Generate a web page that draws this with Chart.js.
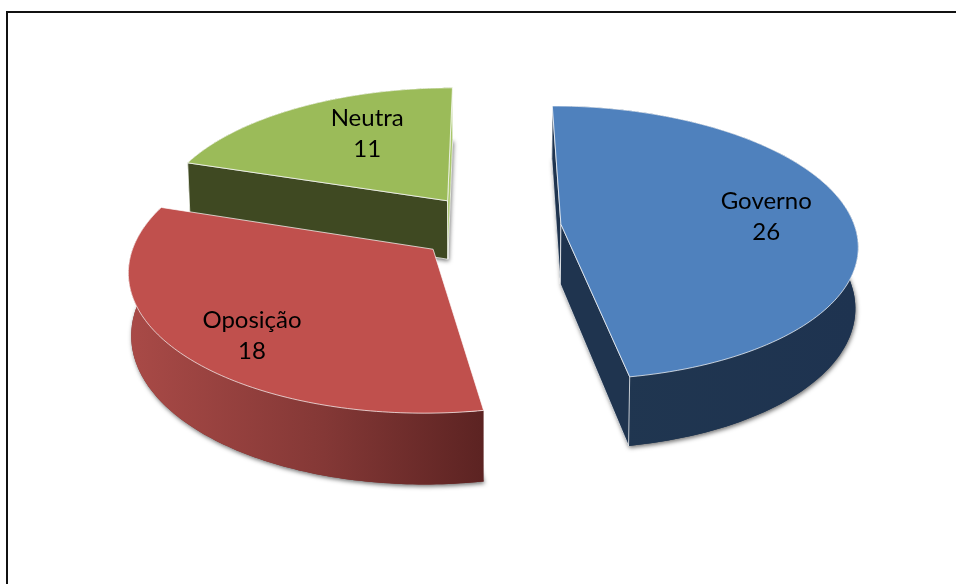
<!DOCTYPE html>
<html>
<head>
<meta charset="utf-8">
<script src="https://cdn.jsdelivr.net/npm/chart.js@4/dist/chart.umd.min.js"></script>
<style>
  html, body { margin: 0; padding: 0; background: #fff; overflow: hidden; }
  #wrap { position: relative; width: 956px; height: 584px; }
  #frame { position: absolute; left: 6px; top: 11px; right: 0; bottom: 0;
           border-left: 2px solid #111; border-top: 2px solid #111; pointer-events: none; }
</style>
</head>
<body>
<div id="wrap">
  <canvas id="chart" width="956" height="584"></canvas>
  <div id="frame"></div>
</div>
<script>
// ── Data ──────────────────────────────────────────────────────────────────
const CATEGORIES = ['Governo', 'Oposição', 'Neutra'];
const VALUES     = [26, 18, 11];

// ── Style ─────────────────────────────────────────────────────────────────
const TOP_COLORS  = ['#4F81BD', '#C0504D', '#9BBB59'];
const WALL_COLORS = ['#1F344F', '#7A3230', '#3F4922'];
const END_COLORS  = ['#1F344F', '#7A3230', '#A9C76B'];  // face at the slice's end angle
const RIM_STOPS   = [
  [[0, '#2A4164'], [0.18, '#203650'], [1, '#1E3350']],
  [[0, '#A94A47'], [0.55, '#843836'], [1, '#5C2322']],
  [[0, '#6F8A3F'], [1, '#6F8A3F']],
];
const LABEL_DIST = [0.711, 0.78, 0.645];
const LABEL_TURN = [0, -5.2, 7];                        // degrees off the slice's middle
const DRAW_ORDER = [2, 1, 0];                           // back to front
const FONT = '24px Lato';

// camera: projects the pie plane (unit = outer radius) on to the page
const CAM = { x0: 489, y0: 227, a: 294, c: 135, p: 0.136, d: 60, k: 0.008 };

function project(U, V, Z) {
  const w = 1 + CAM.p * V;
  return {
    x: CAM.x0 + CAM.a * U / w * (1 - CAM.k * Z),
    y: CAM.y0 + (-CAM.c * V + CAM.d * Z) / w,
  };
}

function tracePoly(ctx, pts) {
  ctx.beginPath();
  pts.forEach((p, i) => i ? ctx.lineTo(p.x, p.y) : ctx.moveTo(p.x, p.y));
  ctx.closePath();
}

function signedArea(pts) {
  return pts.reduce((sum, p, i) => {
    const q = pts[(i + 1) % pts.length];
    return sum + p.x * q.y - q.x * p.y;
  }, 0);
}

// plane coordinates of a slice, taken from the arc element Chart.js laid out
function sliceGeom(arc) {
  const mid = (arc.startAngle + arc.endAngle) / 2;
  const R = arc.outerRadius;
  const off = arc.options.offset / R;
  const ox = Math.cos(mid) * off, oy = -Math.sin(mid) * off;
  const at = (angle, r) => ({ U: ox + Math.cos(angle) * r, V: oy - Math.sin(angle) * r });
  return { mid, at, start: arc.startAngle, end: arc.endAngle };
}

const pie3d = {
  id: 'pie3d',
  beforeDatasetDraw(chart) {
    const ctx = chart.ctx;
    const arcs = chart.getDatasetMeta(0).data;

    DRAW_ORDER.forEach(i => {
      const g = sliceGeom(arcs[i]);
      const steps = 120;
      const rimTop = [], rimBot = [];
      for (let s = 0; s <= steps; s++) {
        const p = g.at(g.start + (g.end - g.start) * s / steps, 1);
        rimTop.push(project(p.U, p.V, 0));
        rimBot.push(project(p.U, p.V, 1));
      }
      const c = g.at(0, 0);
      const apexTop = project(c.U, c.V, 0), apexBot = project(c.U, c.V, 1);

      // drop shadow under the bottom face
      ctx.save();
      ctx.shadowColor = 'rgba(0,0,0,0.55)';
      ctx.shadowBlur = 4;
      ctx.shadowOffsetX = 1;
      ctx.shadowOffsetY = 2;
      ctx.fillStyle = WALL_COLORS[i];
      tracePoly(ctx, [apexBot, ...rimBot]);
      ctx.fill();
      ctx.restore();

      // rim, shaded left to right
      const xs = rimTop.map(p => p.x);
      const grad = ctx.createLinearGradient(Math.min(...xs), 0, Math.max(...xs), 0);
      RIM_STOPS[i].forEach(s => grad.addColorStop(s[0], s[1]));
      ctx.fillStyle = grad;
      tracePoly(ctx, [...rimTop, ...rimBot.slice().reverse()]);
      ctx.fill();

      // radial faces, only where they turn towards the viewer
      const startFace = [apexTop, rimTop[0], rimBot[0], apexBot];
      const endFace = [apexTop, rimTop[steps], rimBot[steps], apexBot];
      ctx.strokeStyle = 'rgba(255,255,255,0.75)';
      ctx.lineWidth = 1;
      if (signedArea(startFace) < 0) {
        ctx.fillStyle = WALL_COLORS[i];
        tracePoly(ctx, startFace);
        ctx.fill();
        ctx.stroke();
      }
      if (signedArea(endFace) > 0) {
        ctx.fillStyle = END_COLORS[i];
        tracePoly(ctx, endFace);
        ctx.fill();
        ctx.stroke();
      }

      // top face
      ctx.fillStyle = TOP_COLORS[i];
      tracePoly(ctx, [apexTop, ...rimTop]);
      ctx.fill();
      ctx.strokeStyle = 'rgba(255,255,255,0.7)';
      ctx.stroke();
    });

    // labels
    ctx.save();
    ctx.fillStyle = '#000';
    ctx.font = FONT;
    ctx.textAlign = 'center';
    ctx.textBaseline = 'middle';
    arcs.forEach((arc, i) => {
      const g = sliceGeom(arc);
      const p = g.at(g.mid + LABEL_TURN[i] * Math.PI / 180, LABEL_DIST[i]);
      const q = project(p.U, p.V, 0);
      ctx.fillText(CATEGORIES[i], q.x, q.y - 15);
      ctx.fillText(String(VALUES[i]), q.x, q.y + 16);
    });
    ctx.restore();
    return false;   // the flat arcs are replaced by the extruded ones
  },
};

new Chart(document.getElementById('chart').getContext('2d'), {
  type: 'pie',
  data: {
    labels: CATEGORIES,
    datasets: [{ data: VALUES, backgroundColor: TOP_COLORS, borderWidth: 0, offset: 64 }],
  },
  options: {
    responsive: false,
    animation: false,
    plugins: { legend: { display: false }, tooltip: { enabled: false } },
  },
  plugins: [pie3d],
});
</script>
</body>
</html>
